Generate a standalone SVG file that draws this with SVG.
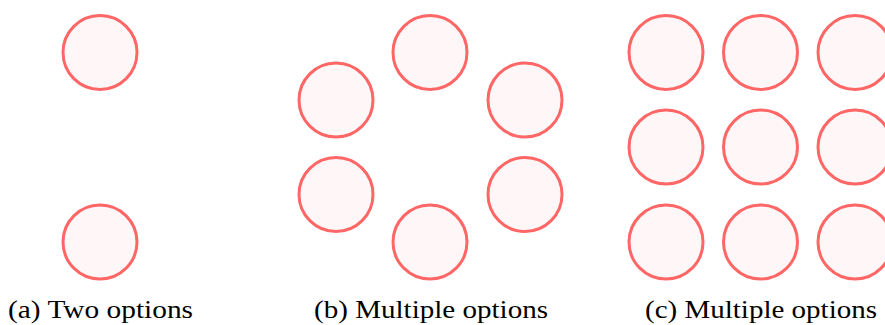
<svg xmlns="http://www.w3.org/2000/svg" width="885" height="325" viewBox="0 0 885 325">
<style>
.c{fill:#fff7f7;stroke:#ff6666;stroke-width:3}
.t{font-family:"Liberation Serif","DejaVu Serif",serif;font-size:25px;fill:#000}
</style>
<rect width="885" height="325" fill="#fff"/>
<g id="a1"><circle class="c" cx="100" cy="52.5" r="37"/></g>
<g id="a2"><circle class="c" cx="100" cy="242" r="37"/></g>
<g id="b1"><circle class="c" cx="430" cy="52.5" r="37"/></g>
<g id="b2"><circle class="c" cx="336" cy="100" r="37"/></g>
<g id="b3"><circle class="c" cx="525" cy="100" r="37"/></g>
<g id="b4"><circle class="c" cx="336" cy="194.5" r="37"/></g>
<g id="b5"><circle class="c" cx="525" cy="194.5" r="37"/></g>
<g id="b6"><circle class="c" cx="430" cy="242" r="37"/></g>
<g id="c1"><circle class="c" cx="666" cy="52.5" r="37"/></g>
<g id="c2"><circle class="c" cx="760.5" cy="52.5" r="37"/></g>
<g id="c3"><circle class="c" cx="855" cy="52.5" r="37"/></g>
<g id="c4"><circle class="c" cx="666" cy="147" r="37"/></g>
<g id="c5"><circle class="c" cx="760.5" cy="147" r="37"/></g>
<g id="c6"><circle class="c" cx="855" cy="147" r="37"/></g>
<g id="c7"><circle class="c" cx="666" cy="242" r="37"/></g>
<g id="c8"><circle class="c" cx="760.5" cy="242" r="37"/></g>
<g id="c9"><circle class="c" cx="855" cy="242" r="37"/></g>
<g id="connectors"/>
<text class="t" x="8" y="318" textLength="185" lengthAdjust="spacingAndGlyphs">(a) Two options</text>
<text class="t" x="314" y="318" textLength="234" lengthAdjust="spacingAndGlyphs">(b) Multiple options</text>
<text class="t" x="645" y="318" textLength="232" lengthAdjust="spacingAndGlyphs">(c) Multiple options</text>
</svg>
